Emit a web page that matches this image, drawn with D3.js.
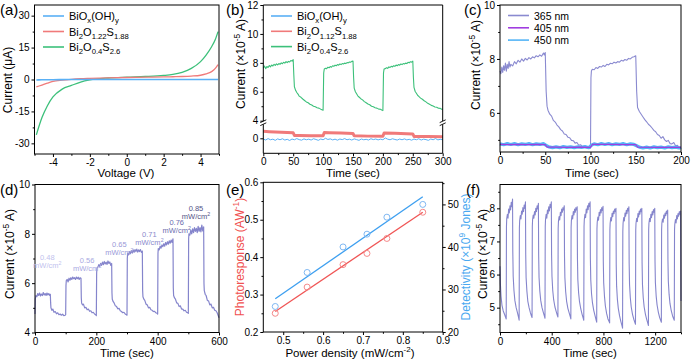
<!DOCTYPE html>
<html>
<head>
<meta charset="utf-8">
<script src="https://cdn.jsdelivr.net/npm/d3@7"></script>
<style>
  body { margin: 0; background: #fff; }
  svg { font-family: "Liberation Sans", Arial, sans-serif; }
</style>
</head>
<body>
<script>
// ---------- data ----------
// (a) I-V curves
var aVolt  = [-4.9, -4.6, -4.3, -4, -3.5, -3, -2.5, -2, -1, 0, 1, 2, 2.5, 3, 3.5, 4, 4.3, 4.6, 4.8, 4.95];
var aBiOx  = [-0.2, -0.15, -0.1, -0.1, -0.05, 0, 0, 0, 0, 0, 0, 0, 0, 0, 0, 0, 0, 0, 0, 0];
var aS188  = [-3.5, -2.6, -1.7, -0.9, -0.3, 0.1, 0.35, 0.5, 0.75, 0.95, 1.1, 1.2, 1.3, 1.4, 1.6, 2.0, 2.6, 3.7, 5.2, 7.0];
var aS26   = [-26, -18, -12.3, -8.2, -4.5, -2.8, -1.2, -0.2, 0.7, 1.1, 1.4, 1.9, 2.4, 3.4, 5.2, 8.4, 11.5, 15.4, 18.8, 22.5];

// (b) on/off response of the three films, green on upper (4-12) segment, others on lower segment
var bS26 = [
  [0,7.62],[2,7.78],[4,7.6],[6,7.75],[8,7.68],[10,7.82],[12,7.72],[14,7.85],[16,7.78],[18,7.9],[20,7.82],[22,7.93],[24,7.86],[26,7.95],[28,7.9],[30,8.0],[32,7.94],[34,8.04],[36,7.98],[38,8.08],[40,8.02],[42,8.1],[44,8.06],[46,8.16],[48,8.12],[50,8.22],
  [51,7.2],[52,6.35],[54,6.1],[56,5.95],[58,5.84],[60,5.7],[63,5.62],[66,5.5],[69,5.4],[72,5.3],[75,5.24],[78,5.14],[81,5.08],[84,5.0],[87,4.97],[90,4.9],[93,4.87],[96,4.8],[98,4.76],[100,4.72],
  [101,7.3],[102,7.58],[104,7.62],[106,7.6],[108,7.7],[110,7.66],[112,7.74],[114,7.7],[116,7.8],[118,7.76],[120,7.84],[122,7.8],[124,7.88],[126,7.84],[128,7.92],[130,7.88],[132,7.95],[134,7.92],[136,7.98],[138,7.95],[140,8.02],[142,8.0],[144,8.06],[146,8.04],[148,8.1],[150,8.12],
  [151,7.0],[152,6.25],[154,6.0],[156,5.86],[158,5.72],[160,5.64],[163,5.52],[166,5.44],[169,5.32],[172,5.24],[175,5.15],[178,5.1],[181,5.0],[184,4.97],[187,4.9],[190,4.87],[193,4.8],[196,4.79],[198,4.74],[200,4.7],
  [201,7.3],[202,7.58],[204,7.6],[206,7.66],[208,7.62],[210,7.72],[212,7.68],[214,7.76],[216,7.72],[218,7.8],[220,7.76],[222,7.85],[224,7.8],[226,7.88],[228,7.84],[230,7.92],[232,7.88],[234,7.95],[236,7.92],[238,7.98],[240,7.95],[242,8.04],[244,8.0],[246,8.08],[248,8.05],[250,8.12],
  [251,7.0],[252,6.3],[254,6.02],[256,5.9],[258,5.76],[260,5.68],[263,5.56],[266,5.48],[269,5.38],[272,5.3],[275,5.2],[278,5.14],[281,5.06],[284,5.02],[287,4.95],[290,4.93],[293,4.86],[296,4.85],[298,4.8],[300,4.78]
];
var bS188 = [[0,0.48],[10,0.46],[20,0.44],[30,0.42],[40,0.4],[50,0.38],[52,0.2],[60,0.2],[80,0.18],[100,0.17],[102,0.4],[110,0.39],[130,0.36],[150,0.33],[152,0.17],[175,0.15],[200,0.14],[202,0.36],[220,0.34],[250,0.3],[252,0.13],[275,0.12],[300,0.1]];
var bBiOx = [[0,-0.05],[4,-0.12],[8,-0.02],[12,-0.1],[16,-0.06],[20,-0.14],[24,-0.04],[28,-0.1],[32,-0.03],[36,-0.12],[40,-0.07],[44,-0.15],[48,-0.05],[52,-0.1],[56,-0.02],[60,-0.09],[64,-0.13],[68,-0.04],[72,-0.1],[76,-0.06],[80,-0.12],[84,-0.03],[88,-0.08],[92,-0.14],[96,-0.05],[100,-0.1],[104,0.0],[108,-0.08],[112,-0.04],[116,-0.11],[120,-0.06],[124,-0.13],[128,-0.05],[132,-0.09],[136,-0.02],[140,-0.1],[144,-0.06],[148,-0.12],[152,-0.04],[156,-0.09],[160,-0.14],[164,-0.05],[168,-0.1],[172,-0.07],[176,-0.12],[180,-0.03],[184,-0.09],[188,-0.05],[192,-0.11],[196,-0.06],[200,-0.1],[204,0.02],[208,-0.06],[212,-0.1],[216,-0.03],[220,-0.08],[224,-0.12],[228,-0.05],[232,-0.1],[236,-0.04],[240,-0.11],[244,-0.07],[248,-0.13],[252,-0.05],[256,-0.1],[260,-0.03],[264,-0.12],[268,-0.06],[272,-0.09],[276,-0.14],[280,-0.05],[284,-0.1],[288,-0.02],[292,-0.11],[296,-0.07],[300,-0.1]];

// (c) wavelength dependence
var c365 = [
  [0,7.55],[1,7.45],[2,7.7],[3,7.5],[4,7.75],[5,7.58],[6,7.85],[7,7.55],[8,7.8],[9,7.65],[10,7.9],[11,7.7],[12,7.8],[14,7.74],[16,7.9],[18,7.82],[20,7.95],[22,7.88],[24,8.0],[26,7.92],[28,8.02],[30,7.96],[32,8.05],[34,8.0],[36,8.08],[38,8.04],[40,8.12],[42,8.08],[44,8.15],[46,8.1],[48,8.22],[49,8.15],[50,8.24],
  [51,6.8],[52,6.25],[53,6.1],[55,5.95],[57,5.88],[59,5.72],[61,5.66],[63,5.55],[65,5.48],[67,5.38],[69,5.33],[71,5.22],[73,5.2],[75,5.1],[77,5.08],[79,4.98],[81,4.97],[83,4.88],[85,4.9],[87,4.8],[89,4.82],[91,4.75],[93,4.76],[95,4.7],[97,4.72],[99,4.68],[100,4.7],
  [100.5,7.3],[101,7.55],[102,7.62],[104,7.6],[106,7.68],[108,7.65],[110,7.72],[112,7.7],[114,7.76],[116,7.72],[118,7.8],[120,7.78],[122,7.84],[124,7.82],[126,7.88],[128,7.85],[130,7.9],[132,7.88],[134,7.95],[136,7.92],[138,7.98],[140,7.95],[142,8.02],[144,8.0],[146,8.06],[148,8.08],[150,8.12],
  [151,6.8],[152,6.2],[154,6.05],[156,5.95],[158,5.85],[160,5.75],[162,5.67],[164,5.58],[166,5.52],[168,5.44],[170,5.35],[172,5.3],[174,5.2],[176,5.16],[178,5.06],[180,5.12],[182,5.0],[184,4.94],[186,4.98],[188,4.86],[190,4.85],[192,4.9],[194,4.78],[196,4.8],[198,4.72],[200,4.7]
];
var c405 = [[0,4.83],[10,4.82],[20,4.83],[30,4.82],[40,4.83],[50,4.82],[52,4.73],[60,4.73],[75,4.72],[90,4.73],[100,4.72],[102,4.83],[120,4.83],[140,4.82],[150,4.82],[152,4.73],[175,4.72],[200,4.72]];
var c450 = [[0,4.85],[4,4.82],[8,4.86],[12,4.83],[16,4.86],[20,4.82],[24,4.85],[28,4.83],[32,4.86],[36,4.82],[40,4.85],[44,4.83],[48,4.86],[51,4.8],[54,4.74],[58,4.71],[62,4.74],[66,4.71],[70,4.75],[74,4.72],[78,4.74],[82,4.71],[86,4.74],[90,4.72],[94,4.75],[98,4.71],[101,4.8],[104,4.85],[108,4.82],[112,4.86],[116,4.83],[120,4.86],[124,4.82],[128,4.85],[132,4.83],[136,4.86],[140,4.82],[144,4.85],[148,4.83],[151,4.78],[154,4.73],[158,4.7],[162,4.73],[166,4.7],[170,4.74],[174,4.71],[178,4.73],[182,4.7],[186,4.74],[190,4.71],[194,4.73],[198,4.7],[200,4.72]];

// (d) power dependence
var dCurrent = [
  [0,4.75],[1,5.35],[3,5.5],[6,5.45],[9,5.58],[12,5.5],[15,5.6],[18,5.48],[21,5.56],[24,5.5],[27,5.62],[30,5.52],[33,5.58],[36,5.5],[39,5.6],[42,5.52],[45,5.58],[48,5.5],[50,5.55],
  [51,5.2],[52,5.0],[55,4.9],[58,4.95],[62,4.82],[66,4.85],[70,4.76],[74,4.8],[78,4.72],[82,4.75],[86,4.7],[90,4.74],[94,4.68],[98,4.7],[100,4.72],
  [101,5.9],[102,6.1],[105,6.15],[108,6.05],[111,6.2],[114,6.12],[117,6.22],[120,6.15],[123,6.25],[126,6.18],[129,6.22],[132,6.15],[135,6.25],[138,6.18],[141,6.24],[144,6.15],[147,6.22],[150,6.2],
  [151,5.4],[152,5.2],[155,5.12],[158,5.15],[162,5.0],[166,5.02],[170,4.92],[174,4.95],[178,4.86],[182,4.88],[186,4.8],[190,4.82],[194,4.75],[198,4.72],[200,4.68],
  [201,6.4],[202,6.6],[205,6.65],[208,6.75],[211,6.68],[214,6.8],[217,6.72],[220,6.85],[223,6.75],[226,6.88],[229,6.78],[232,6.85],[235,6.76],[238,6.9],[241,6.8],[244,6.86],[247,6.72],[250,6.8],
  [251,5.6],[252,5.35],[255,5.25],[258,5.2],[262,5.08],[266,5.05],[270,4.96],[274,4.98],[278,4.88],[282,4.85],[286,4.8],[290,4.82],[294,4.75],[298,4.72],[300,4.7],
  [301,7.0],[302,7.2],[305,7.15],[308,7.28],[311,7.2],[314,7.32],[317,7.22],[320,7.35],[323,7.25],[326,7.36],[329,7.28],[332,7.38],[335,7.26],[338,7.35],[341,7.28],[344,7.36],[347,7.25],[350,7.3],
  [351,5.7],[352,5.45],[355,5.35],[358,5.3],[362,5.15],[366,5.12],[370,5.0],[374,5.02],[378,4.92],[382,4.9],[386,4.85],[390,4.86],[394,4.8],[398,4.78],[400,4.75],
  [401,7.2],[402,7.4],[405,7.35],[408,7.5],[411,7.42],[414,7.55],[417,7.48],[420,7.6],[423,7.5],[426,7.65],[429,7.55],[432,7.68],[435,7.58],[438,7.72],[441,7.62],[444,7.75],[447,7.65],[450,7.8],
  [451,5.8],[452,5.5],[455,5.4],[458,5.35],[462,5.2],[466,5.18],[470,5.05],[474,5.08],[478,4.95],[482,4.95],[486,4.88],[490,4.9],[494,4.82],[498,4.8],[500,4.78],
  [501,7.8],[502,8.0],[505,7.95],[508,8.15],[511,8.0],[514,8.2],[517,8.05],[520,8.25],[523,8.1],[526,8.22],[529,8.05],[532,8.3],[535,8.1],[538,8.25],[541,8.08],[544,8.35],[547,8.12],[550,8.28],
  [551,6.0],[552,5.7],[555,5.55],[558,5.5],[562,5.3],[566,5.28],[570,5.12],[574,5.15],[578,5.0],[582,5.02],[586,4.9],[590,4.88],[594,4.8],[597,4.7],[600,4.6]
];
var dPower = ["0.48", "0.56", "0.65", "0.71", "0.76", "0.85"];
var dPowerColor = ["#c2c2ee", "#a9a9e2", "#9a9ad8", "#8a8acc", "#6c6cae", "#535386"];

// (e) photoresponse & detectivity vs power density
var ePower = [0.48, 0.56, 0.65, 0.71, 0.76, 0.85];
var eResp  = [0.25, 0.32, 0.38, 0.41, 0.45, 0.52];
var eDet   = [26, 34, 40, 43, 47, 50];
var eFitX    = [0.48, 0.85];
var eFitResp = [0.255, 0.52];
var eFitDet  = [27.8, 51.8];

// (f) cycling stability
var fCurrent = [
  [0,6.25],[3,5.72],[8,5.35],[15,5.08],[25,4.9],[35,4.8],[44,4.7],[48,4.66],
  [50,7.45],[52,7.68],[57,7.82],[62,7.7],[67,7.98],[72,7.86],[77,8.08],[82,7.95],[87,8.18],[92,8.05],[97,8.28],
  [99,6.7],[102,5.95],[108,5.52],[115,5.22],[125,5.0],[135,4.85],[144,4.7],[148,4.62],
  [150,7.4],[152,7.62],[157,7.78],[162,7.68],[167,7.92],[172,7.82],[177,8.02],[182,7.9],[187,8.1],[192,8.0],[197,8.2],
  [199,6.6],[202,5.9],[208,5.5],[215,5.2],[225,5.0],[235,4.85],[244,4.74],[248,4.7],
  [250,7.45],[252,7.65],[257,7.8],[262,7.7],[267,7.9],[272,7.8],[277,8.0],[282,7.9],[287,8.08],[292,7.98],[297,8.15],
  [299,6.6],[302,5.92],[308,5.5],[315,5.22],[325,5.0],[335,4.86],[344,4.74],[348,4.68],
  [350,7.45],[352,7.65],[357,7.82],[362,7.7],[367,7.95],[372,7.84],[377,8.05],[382,7.92],[387,8.12],[392,8.02],[397,8.2],
  [399,6.6],[402,5.95],[408,5.52],[415,5.24],[425,5.02],[435,4.88],[444,4.76],[448,4.72],
  [450,7.4],[452,7.6],[457,7.75],[462,7.65],[467,7.88],[472,7.78],[477,7.98],[482,7.88],[487,8.02],[492,7.95],[497,8.08],
  [499,6.55],[502,5.9],[508,5.48],[515,5.2],[525,4.98],[535,4.84],[544,4.72],[548,4.66],
  [550,7.42],[552,7.62],[557,7.78],[562,7.68],[567,7.9],[572,7.8],[577,7.98],[582,7.88],[587,8.02],[592,7.95],[597,8.05],
  [599,6.5],[602,5.85],[608,5.45],[615,5.18],[625,4.96],[635,4.8],[644,4.68],[648,4.62],
  [650,7.45],[652,7.65],[657,7.82],[662,7.72],[667,7.98],[672,7.86],[677,8.08],[682,7.96],[687,8.15],[692,8.05],[697,8.2],
  [699,6.5],[702,5.85],[708,5.42],[715,5.15],[725,4.92],[735,4.76],[744,4.62],[748,4.56],
  [750,7.38],[752,7.58],[757,7.74],[762,7.64],[767,7.88],[772,7.78],[777,7.96],[782,7.86],[787,8.02],[792,7.94],[797,8.06],
  [799,6.4],[802,5.75],[808,5.35],[815,5.05],[825,4.82],[835,4.66],[844,4.58],[848,4.54],
  [850,7.35],[852,7.55],[857,7.72],[862,7.62],[867,7.85],[872,7.75],[877,7.92],[882,7.84],[887,7.98],[892,7.9],[897,8.0],
  [899,6.3],[902,5.65],[908,5.25],[915,4.98],[925,4.75],[935,4.58],[944,4.45],[948,4.38],
  [950,7.3],[952,7.55],[957,7.72],[962,7.62],[967,7.86],[972,7.76],[977,7.94],[982,7.84],[987,8.0],[992,7.92],[997,8.05],
  [999,6.35],[1002,5.7],[1008,5.3],[1015,5.02],[1025,4.8],[1035,4.65],[1044,4.54],[1048,4.5],
  [1050,7.35],[1052,7.55],[1057,7.7],[1062,7.6],[1067,7.84],[1072,7.74],[1077,7.92],[1082,7.82],[1087,7.98],[1092,7.9],[1097,8.0],
  [1099,6.35],[1102,5.7],[1108,5.3],[1115,5.02],[1125,4.8],[1135,4.64],[1144,4.52],[1148,4.46],
  [1150,7.35],[1152,7.55],[1157,7.7],[1162,7.6],[1167,7.82],[1172,7.72],[1177,7.9],[1182,7.8],[1187,7.96],[1192,7.88],[1197,8.0],
  [1199,6.4],[1202,5.75],[1208,5.35],[1215,5.08],[1225,4.86],[1235,4.7],[1244,4.6],[1248,4.56],
  [1250,7.35],[1252,7.55],[1257,7.68],[1262,7.58],[1267,7.8],[1272,7.7],[1277,7.86],[1282,7.78],[1287,7.92],[1292,7.84],[1297,7.95],
  [1299,6.45],[1302,5.8],[1308,5.4],[1315,5.12],[1325,4.9],[1335,4.75],[1344,4.66],[1348,4.62],
  [1350,7.35],[1352,7.52],[1357,7.66],[1362,7.56],[1367,7.78],[1372,7.68],[1377,7.84],[1382,7.76],[1387,7.9],[1392,7.82],[1397,7.92],
  [1399,6.2],[1400,5.2]
];

// ---------- drawing ----------
var blue = "#5ab0f5", red = "#f07a7a", green = "#3cc07a", purple = "#8585cc";
var titleSize = 12;

var svg = d3.select("body").append("svg")
    .attr("width", 693)
    .attr("height", 361);

// text with sub/superscript parts: [[str, "sub"|"sup"|null], ...]
function rich(sel, parts, fs) {
    var shift = 0;
    parts.forEach(function(p) {
        var s = p[1] == "sub" ? fs * 0.3 : (p[1] == "sup" ? -fs * 0.4 : 0);
        sel.append("tspan")
            .attr("dy", s - shift)
            .style("font-size", (p[1] ? fs * 0.7 : fs) + "px")
            .text(p[0]);
        shift = s;
    });
    return sel;
}

function label(x, y, parts, fs, opt) {
    opt = opt || {};
    var t = svg.append("text")
        .attr("text-anchor", opt.anchor || "middle")
        .attr("fill", opt.color || "#000")
        .style("font-size", fs + "px");
    if (opt.rotate) t.attr("transform", "translate(" + x + "," + y + ") rotate(-90)");
    else t.attr("x", x).attr("y", y);
    return rich(t, parts, fs);
}

function cleanAxis(g) {
    g.attr("font-family", null).attr("font-size", "10px");
    g.select(".domain").remove();
    g.selectAll(".tick text").attr("fill", "#000");
}

function xAxis(scale, yPos, major, minor, fmt) {
    svg.append("g")
        .attr("transform", "translate(0," + yPos + ")")
        .call(d3.axisBottom(scale).tickValues(major).tickSize(3).tickPadding(2).tickFormat(fmt))
        .call(cleanAxis);
    svg.append("g")
        .attr("transform", "translate(0," + yPos + ")")
        .call(d3.axisBottom(scale).tickValues(minor).tickSize(1.8).tickFormat(""))
        .call(cleanAxis);
}

function yAxis(scale, xPos, major, minor, fmt, right) {
    var ax = right ? d3.axisRight : d3.axisLeft;
    svg.append("g")
        .attr("transform", "translate(" + xPos + ",0)")
        .call(ax(scale).tickValues(major).tickSize(3).tickPadding(2).tickFormat(fmt))
        .call(cleanAxis);
    if (minor.length)
        svg.append("g")
            .attr("transform", "translate(" + xPos + ",0)")
            .call(ax(scale).tickValues(minor).tickSize(1.8).tickFormat(""))
            .call(cleanAxis);
}

function box(x0, x1, y0, y1) {
    svg.append("rect")
        .attr("x", x0).attr("y", y0)
        .attr("width", x1 - x0).attr("height", y1 - y0)
        .attr("fill", "none").attr("stroke", "#000").attr("stroke-width", 1);
}

function path(data, x, y, color, w) {
    svg.append("path")
        .datum(data)
        .attr("fill", "none")
        .attr("stroke", color)
        .attr("stroke-width", w)
        .attr("stroke-linejoin", "round")
        .attr("d", d3.line().x(function(d) { return x(d[0]); }).y(function(d) { return y(d[1]); }));
}

function legend(x, y0, dy, items, fs) {
    items.forEach(function(it, i) {
        var y = y0 + i * dy;
        svg.append("line").attr("x1", x).attr("x2", x + 21).attr("y1", y).attr("y2", y)
            .attr("stroke", it.color).attr("stroke-width", 1.6);
        label(x + 26, y + 4, it.parts, fs, {anchor: "start"});
    });
}

var intFmt = function(d) { return String(d); };
var f1 = d3.format(".1f");
var curParts = [["Current (×10", null], ["-5", "sup"], [" A)", null]];

// ===== (a) =====
var xA = d3.scaleLinear().domain([-5, 5]).range([34.5, 219]);
var yA = d3.scaleLinear().domain([-35, 35]).range([154, 5]);
var aPairs = function(vals) { return aVolt.map(function(v, i) { return [v, vals[i]]; }); };
var lineA = function(vals, color, w) {
    svg.append("path").datum(aPairs(vals))
        .attr("fill", "none").attr("stroke", color).attr("stroke-width", w)
        .attr("d", d3.line().curve(d3.curveMonotoneX)
            .x(function(d) { return xA(d[0]); }).y(function(d) { return yA(d[1]); }));
};
lineA(aS26, green, 1.3);
lineA(aS188, red, 1.3);
lineA(aBiOx, blue, 1.6);
box(34.5, 219, 5, 154);
xAxis(xA, 154, [-4, -2, 0, 2, 4], [-5, -3, -1, 1, 3, 5], intFmt);
yAxis(yA, 34.5, [-30, -15, 0, 15, 30], [-22.5, -7.5, 7.5, 22.5], intFmt);
legend(43, 16, 15.5, [
    {color: blue,  parts: [["BiO", null], ["x", "sub"], ["(OH)", null], ["y", "sub"]]},
    {color: red,   parts: [["Bi", null], ["2", "sub"], ["O", null], ["1.22", "sub"], ["S", null], ["1.88", "sub"]]},
    {color: green, parts: [["Bi", null], ["2", "sub"], ["O", null], ["0.4", "sub"], ["S", null], ["2.6", "sub"]]}
], 11);
label(126, 177, [["Voltage (V)", null]], 11.5);
label(11.5, 80, [["Current (μA)", null]], titleSize, {rotate: true});
label(0, 15, [["(a)", null]], 15, {anchor: "start"});

// ===== (b) =====
var xB = d3.scaleLinear().domain([0, 300]).range([263.3, 442.7]);
var yB = d3.scaleLinear().domain([4, 12]).range([120.7, 5]);
var yBl = d3.scaleLinear().domain([-1, 1]).range([152.8, 123.8]);
path(bS26, xB, yB, green, 1.1);
path(bS188, xB, yBl, red, 3);
path(bBiOx, xB, yBl, blue, 1);
// frame with axis break
var bFrame = [[263.3, 5, 442.7, 5], [263.3, 153.3, 442.7, 153.3],
              [263.3, 5, 263.3, 121], [263.3, 124.3, 263.3, 153.3],
              [442.7, 5, 442.7, 121], [442.7, 124.3, 442.7, 153.3]];
bFrame.forEach(function(s) {
    svg.append("line").attr("x1", s[0]).attr("y1", s[1]).attr("x2", s[2]).attr("y2", s[3])
        .attr("stroke", "#000").attr("stroke-width", 1);
});
[263.3, 442.7].forEach(function(x) {
    [121.2, 124.2].forEach(function(y) {
        svg.append("line").attr("x1", x - 3).attr("y1", y + 1.4).attr("x2", x + 3).attr("y2", y - 1.4)
            .attr("stroke", "#000").attr("stroke-width", 0.9);
    });
});
xAxis(xB, 153.3, [0, 50, 100, 150, 200, 250, 300], [25, 75, 125, 175, 225, 275], intFmt);
yAxis(yB, 263.3, [4, 6, 8, 10, 12], [5, 7, 9, 11], intFmt);
yAxis(yBl, 263.3, [0], [], intFmt);
legend(271, 16, 15.3, [
    {color: blue,  parts: [["BiO", null], ["x", "sub"], ["(OH)", null], ["y", "sub"]]},
    {color: red,   parts: [["Bi", null], ["2", "sub"], ["O", null], ["1.12", "sub"], ["S", null], ["1.88", "sub"]]},
    {color: green, parts: [["Bi", null], ["2", "sub"], ["O", null], ["0.4", "sub"], ["S", null], ["2.6", "sub"]]}
], 11);
label(353, 177, [["Time (sec)", null]], 11.5);
label(245, 64, curParts, titleSize, {rotate: true});
label(226, 15, [["(b)", null]], 15, {anchor: "start"});

// ===== (c) =====
var xC = d3.scaleLinear().domain([0, 200]).range([500, 681]);
var yC = d3.scaleLinear().domain([4.55, 10]).range([152, 5]);
path(c365, xC, yC, "#8a8ad0", 1.1);
path(c450, xC, yC, "#55b5f6", 3.2);
path(c405, xC, yC, "#a03de0", 1.2);
box(500, 681, 5, 152);
xAxis(xC, 152, [0, 50, 100, 150, 200], [25, 75, 125, 175], intFmt);
yAxis(yC, 500, [6, 8, 10], [5, 7, 9], intFmt);
legend(508, 15.5, 12.3, [
    {color: "#8a8ad0", parts: [["365 nm", null]]},
    {color: "#a03de0", parts: [["405 nm", null]]},
    {color: "#55b5f6", parts: [["450 nm", null]]}
], 10.5);
label(592, 177, [["Time (sec)", null]], 11.5);
label(480, 65, curParts, titleSize, {rotate: true});
label(464, 15, [["(c)", null]], 15, {anchor: "start"});

// ===== (d) =====
var xD = d3.scaleLinear().domain([0, 600]).range([35, 219]);
var yD = d3.scaleLinear().domain([4, 10]).range([332.5, 184.5]);
path(dCurrent, xD, yD, purple, 1.2);
box(35, 219, 184.5, 332.5);
xAxis(xD, 332.5, [0, 200, 400, 600], [100, 300, 500], intFmt);
yAxis(yD, 35, [4, 6, 8, 10], [5, 7, 9], intFmt);
// annotation anchor points (time, current) for each power label
var dLabelT = [40, 170, 275, 373, 462, 525];
var dLabelV = [7.03, 6.9, 7.58, 7.98, 8.47, 9.03];
dPower.forEach(function(p, i) {
    var x = xD(dLabelT[i]), y = yD(dLabelV[i]);
    label(x, y + 2.5, [[p, null]], 7.5, {color: dPowerColor[i]});
    label(x, y + 10.5, [["mW/cm", null], ["2", "sup"]], 7.5, {color: dPowerColor[i]});
});
label(127, 357, [["Time (sec)", null]], 11.5);
label(14, 254, curParts, titleSize, {rotate: true});
label(0, 195, [["(d)", null]], 15, {anchor: "start"});

// ===== (e) =====
var xE = d3.scaleLinear().domain([0.45, 0.9]).range([263.3, 442.7]);
var yE = d3.scaleLinear().domain([0.2, 0.6]).range([332, 182.3]);
var yE2 = d3.scaleLinear().domain([20, 55.2]).range([332, 182.3]);
svg.append("line")
    .attr("x1", xE(eFitX[0])).attr("x2", xE(eFitX[1]))
    .attr("y1", yE(eFitResp[0])).attr("y2", yE(eFitResp[1]))
    .attr("stroke", "#f05555").attr("stroke-width", 1.3);
svg.append("line")
    .attr("x1", xE(eFitX[0])).attr("x2", xE(eFitX[1]))
    .attr("y1", yE2(eFitDet[0])).attr("y2", yE2(eFitDet[1]))
    .attr("stroke", "#3d9ff0").attr("stroke-width", 1.3);
svg.selectAll("circle.resp").data(ePower).enter().append("circle")
    .attr("class", "resp")
    .attr("cx", function(d) { return xE(d); })
    .attr("cy", function(d, i) { return yE(eResp[i]); })
    .attr("r", 3).attr("fill", "none").attr("stroke", "#f58a8a").attr("stroke-width", 1);
svg.selectAll("circle.det").data(ePower).enter().append("circle")
    .attr("class", "det")
    .attr("cx", function(d) { return xE(d); })
    .attr("cy", function(d, i) { return yE2(eDet[i]); })
    .attr("r", 3).attr("fill", "none").attr("stroke", "#80b8f2").attr("stroke-width", 1);
box(263.3, 442.7, 182.3, 332);
xAxis(xE, 332, [0.5, 0.6, 0.7, 0.8, 0.9], [0.55, 0.65, 0.75, 0.85], f1);
yAxis(yE, 263.3, [0.2, 0.3, 0.4, 0.5, 0.6], [0.25, 0.35, 0.45, 0.55], f1);
yAxis(yE2, 442.7, [20, 30, 40, 50], [25, 35, 45, 55], intFmt, true);
label(350, 357, [["Power density (mW/cm", null], ["-2", "sup"], [")", null]], 11.5);
label(244, 257, [["Photoresponse (AW", null], ["-1", "sup"], [")", null]], titleSize, {rotate: true, color: "#f05050"});
label(470, 257, [["Detectivity (×10", null], ["9", "sup"], [" Jones)", null]], titleSize, {rotate: true, color: "#4aa8f0"});
label(226, 195, [["(e)", null]], 15, {anchor: "start"});

// ===== (f) =====
var xF = d3.scaleLinear().domain([0, 1400]).range([500, 681]);
var yF = d3.scaleLinear().domain([4.25, 8.72]).range([332.5, 184.5]);
path(fCurrent, xF, yF, purple, 1.1);
box(500, 681, 184.5, 332.5);
xAxis(xF, 332.5, [0, 400, 800, 1200], [200, 600, 1000, 1400], intFmt);
yAxis(yF, 500, [5, 6, 7, 8], [4.5, 5.5, 6.5, 7.5, 8.5], intFmt);
label(590, 357, [["Time  (sec)", null]], 11.5);
label(487, 254, curParts, titleSize, {rotate: true});
label(466, 195, [["(f)", null]], 15, {anchor: "start"});
</script>
</body>
</html>
